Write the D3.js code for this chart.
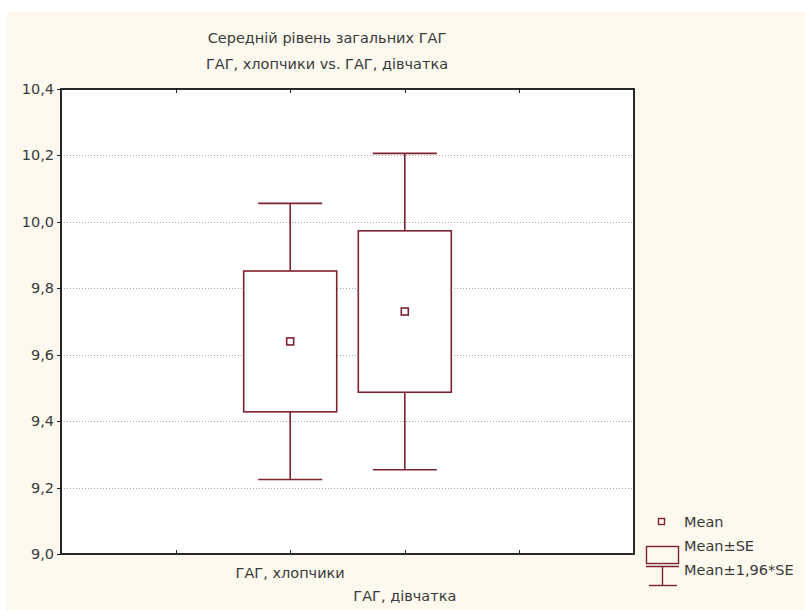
<!DOCTYPE html>
<html>
<head>
<meta charset="utf-8">
<script src="https://cdn.jsdelivr.net/npm/d3@7/dist/d3.min.js"></script>
<style>
  body { margin: 0; background: #fff; }
  svg { display: block; }
  text { font-family: "DejaVu Sans", Verdana, sans-serif; fill: #3a3a3a; }
</style>
</head>
<body>
<div id="chart"></div>
<script>
// === Data ===
var titleLines = ["Середній рівень загальних ГАГ", "ГАГ, хлопчики vs. ГАГ, дівчатка"];
var categories = ["ГАГ, хлопчики", "ГАГ, дівчатка"];
var means = [9.64, 9.73];
var stdErr = [0.212, 0.243];
var yTicks = [9.0, 9.2, 9.4, 9.6, 9.8, 10.0, 10.2, 10.4];
var legendLabels = ["Mean", "Mean±SE", "Mean±1,96*SE"];

var W = 805, H = 610;
var plot = { left: 61, top: 89, right: 634, bottom: 554 };
var red = "#7d2230";
var fs = "14.5px";

var svg = d3.select("#chart").append("svg")
    .attr("width", W).attr("height", H);

// cream backdrop (white strip on top and left like the original)
svg.append("rect").attr("x", 7).attr("y", 12)
    .attr("width", W - 7).attr("height", H - 12)
    .attr("fill", "#fdf9ef");

var y = d3.scaleLinear().domain([9.0, 10.4]).range([plot.bottom, plot.top]);
// x axis: 5 intervals, categories sit at 2 and 3
var x = d3.scaleLinear().domain([0, 5]).range([plot.left, plot.right]);
function catPos(i) { return x(i + 2); }

svg.append("rect")
    .attr("x", plot.left).attr("y", plot.top)
    .attr("width", plot.right - plot.left).attr("height", plot.bottom - plot.top)
    .attr("fill", "#fff");

// grid
svg.append("g").selectAll("line")
    .data(yTicks.filter(function (d) { return d > 9.0 && d < 10.4; }))
    .enter().append("line")
    .attr("x1", plot.left).attr("x2", plot.right)
    .attr("y1", function (d) { return Math.round(y(d)) + 0.5; })
    .attr("y2", function (d) { return Math.round(y(d)) + 0.5; })
    .attr("stroke", "#a8a8a8")
    .attr("stroke-dasharray", "1,2");

// y labels + outward ticks
var yl = svg.append("g");
yl.selectAll("text").data(yTicks).enter().append("text")
    .attr("x", 54)
    .attr("y", function (d) { return y(d) + 5; })
    .attr("text-anchor", "end")
    .style("font-size", fs)
    .text(function (d) { return d3.format(".1f")(d).replace(".", ","); });
yl.selectAll("line").data(yTicks).enter().append("line")
    .attr("x1", 57).attr("x2", plot.left)
    .attr("y1", function (d) { return Math.round(y(d)) + 0.5; })
    .attr("y2", function (d) { return Math.round(y(d)) + 0.5; })
    .attr("stroke", "#222");

// inward ticks on top and bottom
var xt = [1, 2, 3, 4];
svg.append("g").selectAll("line").data(xt).enter().append("line")
    .attr("x1", function (d) { return Math.round(x(d)) + 0.5; })
    .attr("x2", function (d) { return Math.round(x(d)) + 0.5; })
    .attr("y1", plot.bottom).attr("y2", plot.bottom - 4)
    .attr("stroke", "#222");
svg.append("g").selectAll("line").data(xt).enter().append("line")
    .attr("x1", function (d) { return Math.round(x(d)) + 0.5; })
    .attr("x2", function (d) { return Math.round(x(d)) + 0.5; })
    .attr("y1", plot.top).attr("y2", plot.top + 4)
    .attr("stroke", "#222");

// frame
svg.append("rect")
    .attr("x", plot.left).attr("y", plot.top)
    .attr("width", plot.right - plot.left).attr("height", plot.bottom - plot.top)
    .attr("fill", "none").attr("stroke", "#111").attr("stroke-width", 1.8);

// boxes
var boxHalf = 46.5, capHalf = 32;
var g = svg.append("g").selectAll("g").data(categories).enter().append("g");
g.append("line")
    .attr("x1", function (d, i) { return catPos(i); })
    .attr("x2", function (d, i) { return catPos(i); })
    .attr("y1", function (d, i) { return y(means[i] + 1.96 * stdErr[i]); })
    .attr("y2", function (d, i) { return y(means[i] - 1.96 * stdErr[i]); })
    .attr("stroke", red).attr("stroke-width", 1.6);
[1, -1].forEach(function (s) {
    g.append("line")
        .attr("x1", function (d, i) { return catPos(i) - capHalf; })
        .attr("x2", function (d, i) { return catPos(i) + capHalf; })
        .attr("y1", function (d, i) { return y(means[i] + s * 1.96 * stdErr[i]); })
        .attr("y2", function (d, i) { return y(means[i] + s * 1.96 * stdErr[i]); })
        .attr("stroke", red).attr("stroke-width", 1.6);
});
g.append("rect")
    .attr("x", function (d, i) { return catPos(i) - boxHalf; })
    .attr("y", function (d, i) { return y(means[i] + stdErr[i]); })
    .attr("width", boxHalf * 2)
    .attr("height", function (d, i) { return y(means[i] - stdErr[i]) - y(means[i] + stdErr[i]); })
    .attr("fill", "#fff").attr("stroke", red).attr("stroke-width", 1.6);
g.append("rect")
    .attr("x", function (d, i) { return catPos(i) - 3.5; })
    .attr("y", function (d, i) { return y(means[i]) - 3.5; })
    .attr("width", 7).attr("height", 7)
    .attr("fill", "#fff").attr("stroke", red).attr("stroke-width", 1.6);

// category labels, staggered
svg.append("g").selectAll("text").data(categories).enter().append("text")
    .attr("x", function (d, i) { return catPos(i); })
    .attr("y", function (d, i) { return 578 + i * 23; })
    .attr("text-anchor", "middle")
    .style("font-size", fs)
    .text(function (d) { return d; });

// title
svg.append("g").selectAll("text").data(titleLines).enter().append("text")
    .attr("x", 327)
    .attr("y", function (d, i) { return 43 + i * 26; })
    .attr("text-anchor", "middle")
    .style("font-size", fs)
    .text(function (d) { return d; });

// legend
var lg = svg.append("g");
lg.append("rect").attr("x", 658.5).attr("y", 518.5).attr("width", 6).attr("height", 6)
    .attr("fill", "none").attr("stroke", red).attr("stroke-width", 1.4);
lg.append("rect").attr("x", 646.5).attr("y", 546.5).attr("width", 32).attr("height", 17)
    .attr("fill", "none").attr("stroke", red).attr("stroke-width", 1.4);
lg.append("line").attr("x1", 646).attr("x2", 679).attr("y1", 566.5).attr("y2", 566.5)
    .attr("stroke", red).attr("stroke-width", 1.4);
lg.append("line").attr("x1", 662.5).attr("x2", 662.5).attr("y1", 566).attr("y2", 585)
    .attr("stroke", red).attr("stroke-width", 1.4);
lg.append("line").attr("x1", 649).attr("x2", 677).attr("y1", 585.5).attr("y2", 585.5)
    .attr("stroke", red).attr("stroke-width", 1.4);
lg.selectAll("text").data(legendLabels).enter().append("text")
    .attr("x", 684)
    .attr("y", function (d, i) { return 527 + i * 24; })
    .style("font-size", fs)
    .text(function (d) { return d; });
</script>
</body>
</html>
